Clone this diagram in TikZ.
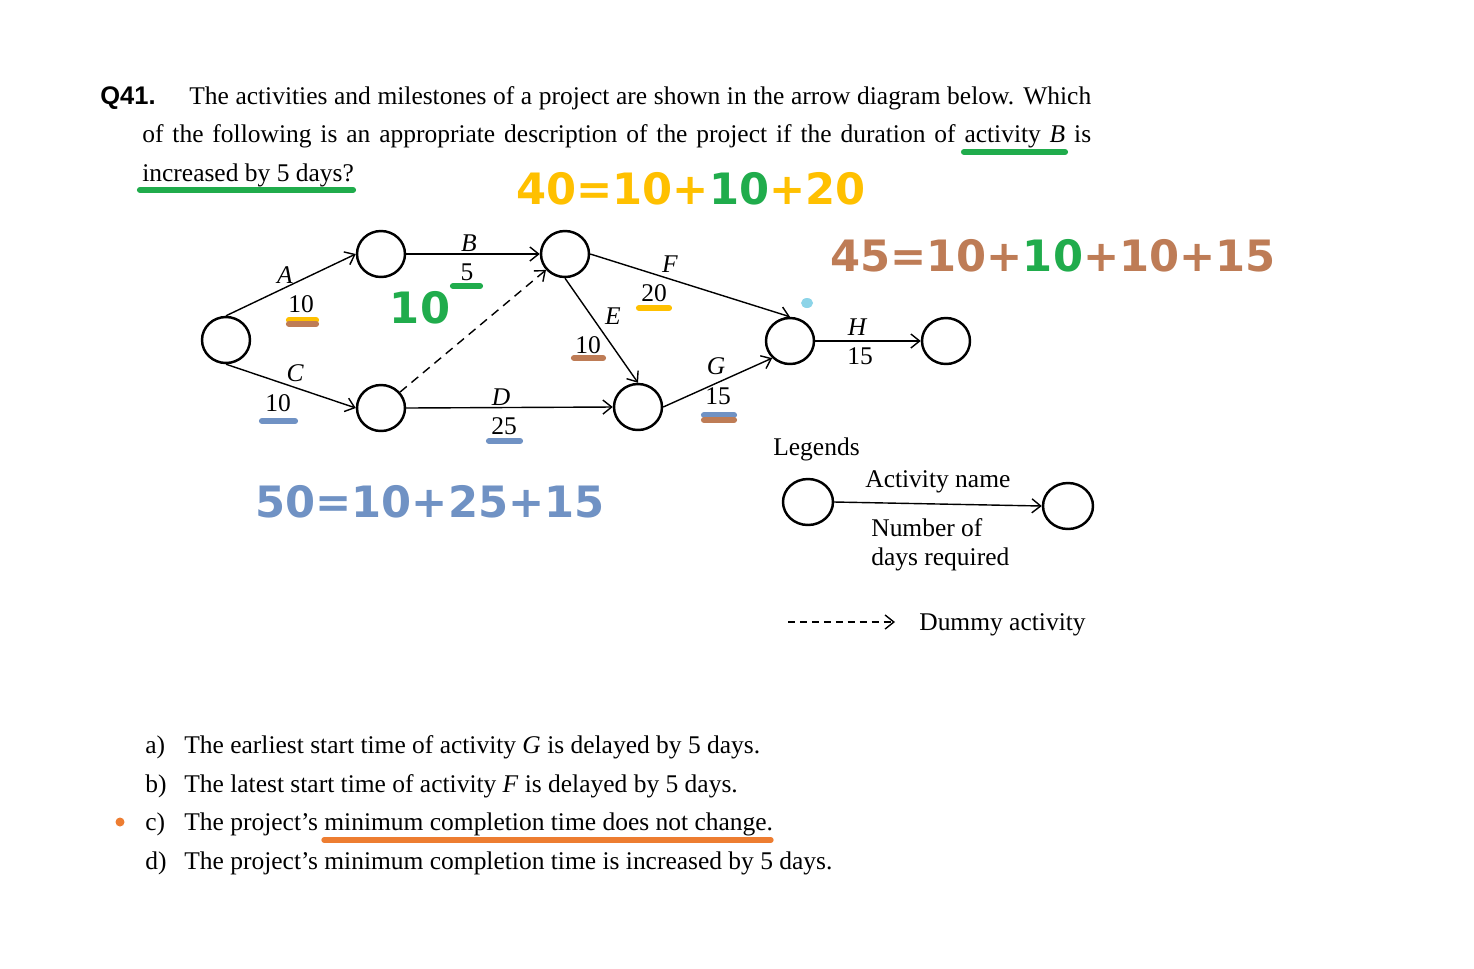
\documentclass[tikz,border=0pt]{standalone}
\usepackage{fontspec}
\setmainfont{Liberation Serif}
\newfontfamily\qfont{Liberation Sans}
\newfontfamily\eqfont{DejaVu Sans}
\usetikzlibrary{arrows.meta, positioning, shapes.geometric}
\usepackage{xcolor}
\definecolor{cpmyellow}{RGB}{255,192,0}
\definecolor{cpmgreen}{RGB}{32,172,76}
\definecolor{cpmbrown}{RGB}{190,124,86}
\definecolor{cpmblue}{RGB}{112,146,196}
\definecolor{cpmorange}{RGB}{237,125,49}
\definecolor{cpmcyan}{RGB}{140,212,232}

\begin{document}
\begin{tikzpicture}[
  x=0.02cm, y=-0.02cm,
  font=\fontsize{14.5}{17}\selectfont,
  event/.style={ellipse, draw, line width=1.4pt, minimum width=0.96cm,
                minimum height=0.92cm, inner sep=0pt},
  act/.style={-{Straight Barb[length=5pt, width=8pt]}, line width=0.8pt},
  dummy/.style={act, dash pattern=on 5pt off 3.5pt},
  lbl/.style={inner sep=0pt, font=\fontsize{14.5}{17}\selectfont\itshape},
  num/.style={inner sep=0pt},
  txt/.style={anchor=base west, inner sep=0pt},
  uline/.style={draw=#1, line width=3.5pt, line cap=round},
  eq/.style={inner sep=0pt, font=\eqfont\bfseries\fontsize{24.6}{28}\selectfont}
]
\fill[white] (0,0) rectangle (1474,968);
\useasboundingbox (0,0) rectangle (1474,968);

% question
\node[txt] (qnum) at (100,104) {\qfont\bfseries Q41.};
\node[txt] (qline1) at (189,104) {\makebox[18.04cm][s]{The activities and milestones of a project are shown in the arrow diagram below. Which}};
\node[txt] (qline2) at (142,142) {\makebox[18.98cm][s]{of the following is an appropriate description of the project if the duration of activity \textit{B} is}};
\node[txt] (qline3) at (142,181) {increased by 5 days?};
\draw[uline=cpmgreen] (964,152) -- (1065,152);
\draw[uline=cpmgreen] (140,190) -- (353,190);

% events
\node[event] (n1) at (226,340) {};
\node[event] (n2) at (381,254) {};
\node[event] (n3) at (565,254) {};
\node[event] (n4) at (381,408) {};
\node[event] (n5) at (638,407) {};
\node[event] (n6) at (790,341) {};
\node[event] (n7) at (946,341) {};

\draw[act] (n1.north) -- (n2.west);
\draw[act] (n2.east) -- (n3.west);
\draw[act] (n1.south) -- (n4.west);
\draw[act] (n4.east) -- (n5.west);
\draw[dummy] (n4) -- (n3);
\draw[act] (n3.south) -- (n5.north);
\draw[act] (n3.east) -- (n6.north);
\draw[act] (n5.east) -- (n6.south west);
\draw[act] (n6.east) -- (n7.west);

\node[lbl] (la) at (285,275) {A};
\node[num] (da) at (301,304) {10};
\node[lbl] (lb) at (469,243) {B};
\node[num] (db) at (467,272) {5};
\node[lbl] (lc) at (295,373) {C};
\node[num] (dc) at (278,403) {10};
\node[lbl] (ld) at (501,397) {D};
\node[num] (dd) at (504,426) {25};
\node[lbl] (le) at (613,316) {E};
\node[num] (de) at (588,345) {10};
\node[lbl] (lf) at (670,264) {F};
\node[num] (df) at (654,293) {20};
\node[lbl] (lg) at (716,366) {G};
\node[num] (dg) at (718,396) {15};
\node[lbl] (lh) at (857,327) {H};
\node[num] (dh) at (860,356) {15};

\draw[uline=cpmyellow] (289,320) -- (316,320);
\draw[uline=cpmbrown]  (289,324) -- (316,324);
\draw[uline=cpmgreen]  (453,286) -- (480,286);
\draw[uline=cpmblue]   (262,421) -- (295,421);
\draw[uline=cpmblue]   (489,441) -- (520,441);
\draw[uline=cpmbrown]  (574,358) -- (603,358);
\draw[uline=cpmyellow] (639,308) -- (669,308);
\draw[uline=cpmblue]   (704,415) -- (734,415);
\draw[uline=cpmbrown]  (704,420) -- (734,420);
\fill[cpmcyan] (807,303) ellipse [x radius=0.12cm, y radius=0.1cm];

% path sums
\node[eq] (sum40) at (691,189) {\color{cpmyellow}40=10+\textcolor{cpmgreen}{10}+20};
\node[eq] (sum45) at (1053,256) {\color{cpmbrown}45=10+\textcolor{cpmgreen}{10}+10+15};
\node[eq] (sum50) at (430,502) {\color{cpmblue}50=10+25+15};
\node[eq, text=cpmgreen] (sumb) at (420,308) {10};

% legend
\node[txt] (legend) at (773,455) {Legends};
\node[event, minimum width=1cm] (l1) at (808,502) {};
\node[event, minimum width=1cm] (l2) at (1068,506) {};
\draw[act] (l1.east) -- (l2.west);
\node[txt] (lname) at (865,487) {Activity name};
\node[txt] (ldays1) at (871,536) {Number of};
\node[txt] (ldays2) at (871,565) {days required};
\coordinate (dstart) at (788,622);
\coordinate (dend) at (895,622);
\draw[act, dash pattern=on 4pt off 2.8pt] (dstart) -- (dend);
\node[txt] (ldummy) at (919,630) {Dummy activity};

% choices
\node[txt] (oa) at (145,753) {a)};
\node[txt] (ta) at (184,753) {The earliest start time of activity \textit{G} is delayed by 5 days.};
\node[txt] (ob) at (145,792) {b)};
\node[txt] (tb) at (184,792) {The latest start time of activity \textit{F} is delayed by 5 days.};
\node[txt] (oc) at (145,830) {c)};
\node[txt] (tc) at (184,830) {The project's minimum completion time does not change.};
\node[txt] (od) at (145,869) {d)};
\node[txt] (td) at (184,869) {The project's minimum completion time is increased by 5 days.};
\fill[cpmorange] (120,822) circle [radius=0.09cm];
\draw[uline=cpmorange, line width=3pt] (324,840) -- (771,840);
\end{tikzpicture}
\end{document}
